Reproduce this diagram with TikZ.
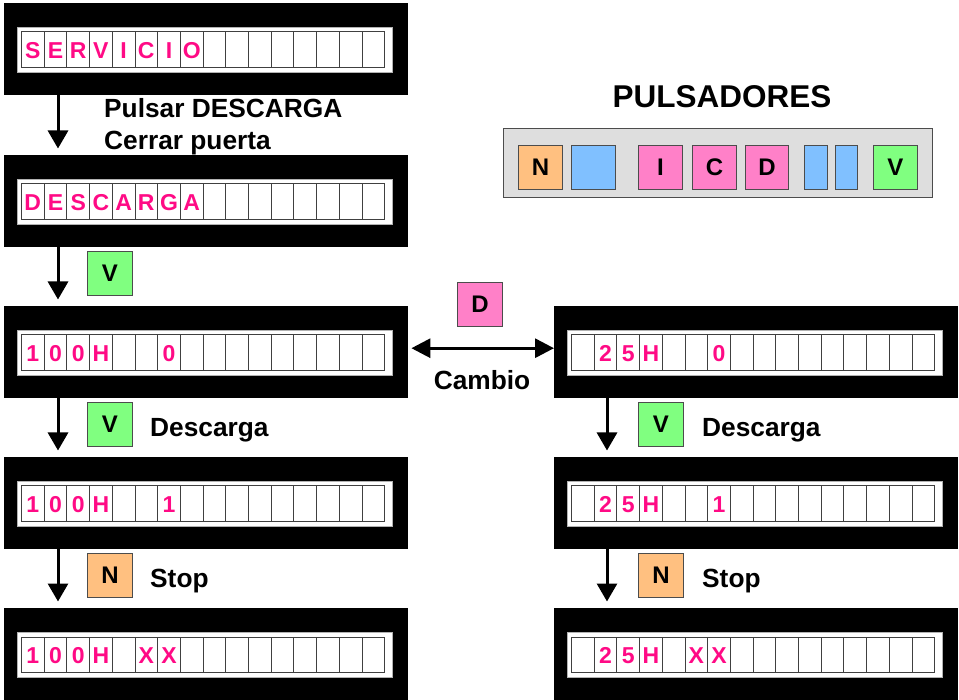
\documentclass[tikz,border=0pt]{standalone}
\usepackage{fontspec}
\setmainfont{Liberation Sans}
\usetikzlibrary{arrows.meta}

\definecolor{lcdtext}{HTML}{FF0A85}
\definecolor{keyorange}{HTML}{FFC080}
\definecolor{keyblue}{HTML}{80C0FF}
\definecolor{keypink}{HTML}{FF80C8}
\definecolor{keygreen}{HTML}{80FF80}
\definecolor{panelgray}{HTML}{DEDEDE}

\tikzset{
  lcd/.style={anchor=north west, fill=black, inner sep=0pt, minimum width=404pt, minimum height=92pt},
  lcdwin/.style={anchor=north west, fill=white, draw=gray!60, line width=0.6pt, inner sep=0pt, minimum width=375pt, minimum height=45pt},
  lcdcell/.style={anchor=north west, fill=white, draw=black!75, line width=0.9pt, inner sep=0pt, minimum width=22.7pt, minimum height=35.5pt},
  lcdchar/.style={anchor=base, text=lcdtext, inner sep=0pt, font=\fontsize{23}{23}\selectfont\bfseries},
  key/.style={anchor=north west, draw=black!70, line width=0.9pt, inner sep=0pt, minimum width=45pt, minimum height=44pt, font=\fontsize{24}{24}\selectfont\bfseries},
  lbl/.style={anchor=base west, inner sep=0pt, font=\fontsize{26.3}{30}\selectfont\bfseries},
  flow/.style={line width=3pt, -{Triangle[width=20pt,length=18pt]}, shorten >=6.5pt}
}

\newcommand{\lcdpanel}[4]{%
  \node[lcd] (#1) at (#2,#3) {};
  \node[lcdwin] (#1w) at ({#2+13},{#3+24}) {};
  \foreach \k in {0,...,15}
    \node[lcdcell] (#1c\k) at ({#2+17+22.7*\k},{#3+28.5}) {};
  \foreach \ch [count=\k from 0] in {#4}
    \node[lcdchar] at ([yshift=9pt]#1c\k.south) {\ch};
}

\begin{document}
\begin{tikzpicture}[x=1pt,y=-1pt]
\useasboundingbox (0,0) rectangle (959,700);

\lcdpanel{servicio}{4}{3}{S,E,R,V,I,C,I,O}
\lcdpanel{descarga}{4}{155}{D,E,S,C,A,R,G,A}
\lcdpanel{cienA}{4}{306}{1,0,0,H,{},{},0}
\lcdpanel{cienB}{4}{457}{1,0,0,H,{},{},1}
\lcdpanel{cienC}{4}{608}{1,0,0,H,{},X,X}
\lcdpanel{veinteA}{554}{306}{{},2,5,H,{},{},0}
\lcdpanel{veinteB}{554}{457}{{},2,5,H,{},{},1}
\lcdpanel{veinteC}{554}{608}{{},2,5,H,{},X,X}

\draw[flow] ([xshift=54pt]servicio.south west) -- ([xshift=54pt]descarga.north west);
\draw[flow] ([xshift=54pt]descarga.south west) -- ([xshift=54pt]cienA.north west);
\draw[flow] ([xshift=54pt]cienA.south west) -- ([xshift=54pt]cienB.north west);
\draw[flow] ([xshift=54pt]cienB.south west) -- ([xshift=54pt]cienC.north west);
\draw[flow] ([xshift=53pt]veinteA.south west) -- ([xshift=53pt]veinteB.north west);
\draw[flow] ([xshift=53pt]veinteB.south west) -- ([xshift=53pt]veinteC.north west);
\draw[line width=3pt, {Triangle[width=19pt,length=19pt]}-{Triangle[width=19pt,length=19pt]}, shorten <=3pt]
  ([yshift=4pt]cienA.east) -- ([yshift=4pt]veinteA.west);

\node[lbl] (pulsar) at (104,118) {Pulsar DESCARGA};
\node[lbl] (cerrar) at (104,150) {Cerrar puerta};
\node[key, fill=keygreen] (kv1) at (87,251) {V};
\node[key, fill=keygreen] (kv2) at (87,402) {V};
\node[lbl] (descA) at (150,437) {Descarga};
\node[key, fill=keyorange] (kn1) at (87,553) {N};
\node[lbl] (stopA) at (150,587) {Stop};
\node[key, fill=keygreen] (kv3) at (638,402) {V};
\node[lbl] (descB) at (702,437) {Descarga};
\node[key, fill=keyorange] (kn2) at (638,553) {N};
\node[lbl] (stopB) at (702,587) {Stop};
\node[key, fill=keypink] (kd) at (457,282) {D};
\node[lbl, anchor=base] (cambio) at (482,390) {Cambio};

\node[anchor=base, inner sep=0pt, font=\fontsize{31.5}{32}\selectfont\bfseries] (titulo) at (722,108) {PULSADORES};
\node[anchor=north west, fill=panelgray, draw=black!70, line width=1.2pt, inner sep=0pt, minimum width=429pt, minimum height=69pt] (panel) at (503,128) {};
\node[key, fill=keyorange, minimum width=44pt] (pn) at (518,145) {N};
\node[key, fill=keyblue, minimum width=44pt] (pb1) at (571,145) {};
\node[key, fill=keypink, minimum width=44pt] (pi) at (638,145) {I};
\node[key, fill=keypink, minimum width=44pt] (pc) at (692,145) {C};
\node[key, fill=keypink, minimum width=43pt] (pd) at (745,145) {D};
\node[key, fill=keyblue, minimum width=23pt] (pb2) at (804,145) {};
\node[key, fill=keyblue, minimum width=22pt] (pb3) at (835,145) {};
\node[key, fill=keygreen, minimum width=44pt] (pv) at (873,145) {V};
\end{tikzpicture}
\end{document}
